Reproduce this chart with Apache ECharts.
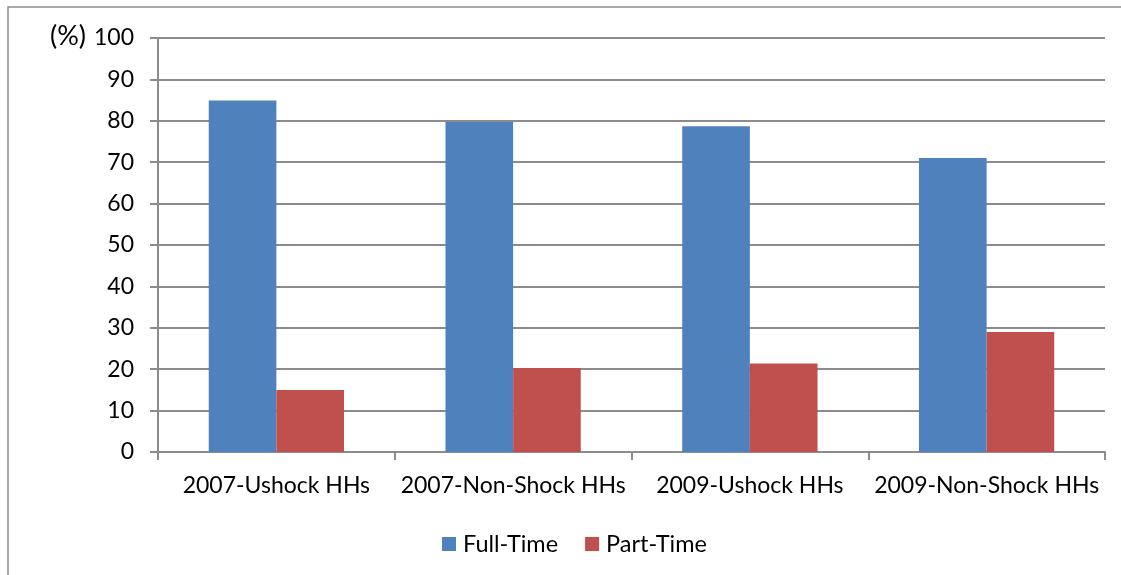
<!DOCTYPE html>
<html>
<head>
<meta charset="utf-8">
<script src="https://cdn.jsdelivr.net/npm/echarts@6/dist/echarts.min.js"></script>
<style>
  html, body { margin: 0; padding: 0; background: #fff; }
  #chart { width: 1121px; height: 575px; }
</style>
</head>
<body>
<div id="chart"></div>
<script>
  // categories and series
  var categories = ['2007-Ushock HHs', '2007-Non-Shock HHs', '2009-Ushock HHs', '2009-Non-Shock HHs'];
  var fullTime = [84.9, 79.7, 78.7, 71.0];
  var partTime = [15.0, 20.3, 21.4, 29.0];
  var seriesNames = ['Full-Time', 'Part-Time'];

  var colors = ['#4F81BD', '#C0504D'];
  var font = 'Lato';
  var gridColor = '#8C8C8C';

  var myChart = echarts.init(document.getElementById('chart'));
  var option = {
    animation: false,
    color: colors,
    textStyle: { fontFamily: font },
    grid: { left: 158, right: 16, top: 38, bottom: 123 },
    graphic: [
      {
        type: 'rect',
        shape: { x: 8, y: 7, width: 1200, height: 600 },
        style: { fill: 'none', stroke: '#8C8C8C', lineWidth: 1.5 },
        silent: true
      },
      {
        type: 'text',
        x: 50,
        y: 23,
        style: { text: '(%)', fontFamily: font, fontSize: 27, fill: '#000' }
      }
    ],
    legend: {
      data: seriesNames,
      left: 437,
      top: 527,
      itemWidth: 14,
      itemHeight: 14,
      itemGap: 27,
      icon: 'rect',
      textStyle: { fontFamily: font, fontSize: 23.5, color: '#000', padding: [0, 0, 0, 2] }
    },
    xAxis: {
      type: 'category',
      data: categories,
      axisLine: { lineStyle: { color: gridColor, width: 2 } },
      axisTick: { show: true, length: 8, lineStyle: { color: gridColor, width: 2 } },
      axisLabel: { interval: 0, fontFamily: font, fontSize: 23, color: '#000', margin: 22 }
    },
    yAxis: {
      type: 'value',
      min: 0,
      max: 100,
      interval: 10,
      axisLine: { show: true, lineStyle: { color: gridColor, width: 2 } },
      axisTick: { show: true, length: 8, lineStyle: { color: gridColor, width: 2 } },
      splitLine: { lineStyle: { color: gridColor, width: 2 } },
      axisLabel: { fontFamily: font, fontSize: 23, color: '#000', margin: 24 }
    },
    series: [
      {
        name: seriesNames[0],
        type: 'bar',
        data: fullTime,
        barGap: '0%',
        barCategoryGap: '42.86%'
      },
      {
        name: seriesNames[1],
        type: 'bar',
        data: partTime,
        barGap: '0%',
        barCategoryGap: '42.86%'
      }
    ]
  };
  myChart.setOption(option);
</script>
</body>
</html>
